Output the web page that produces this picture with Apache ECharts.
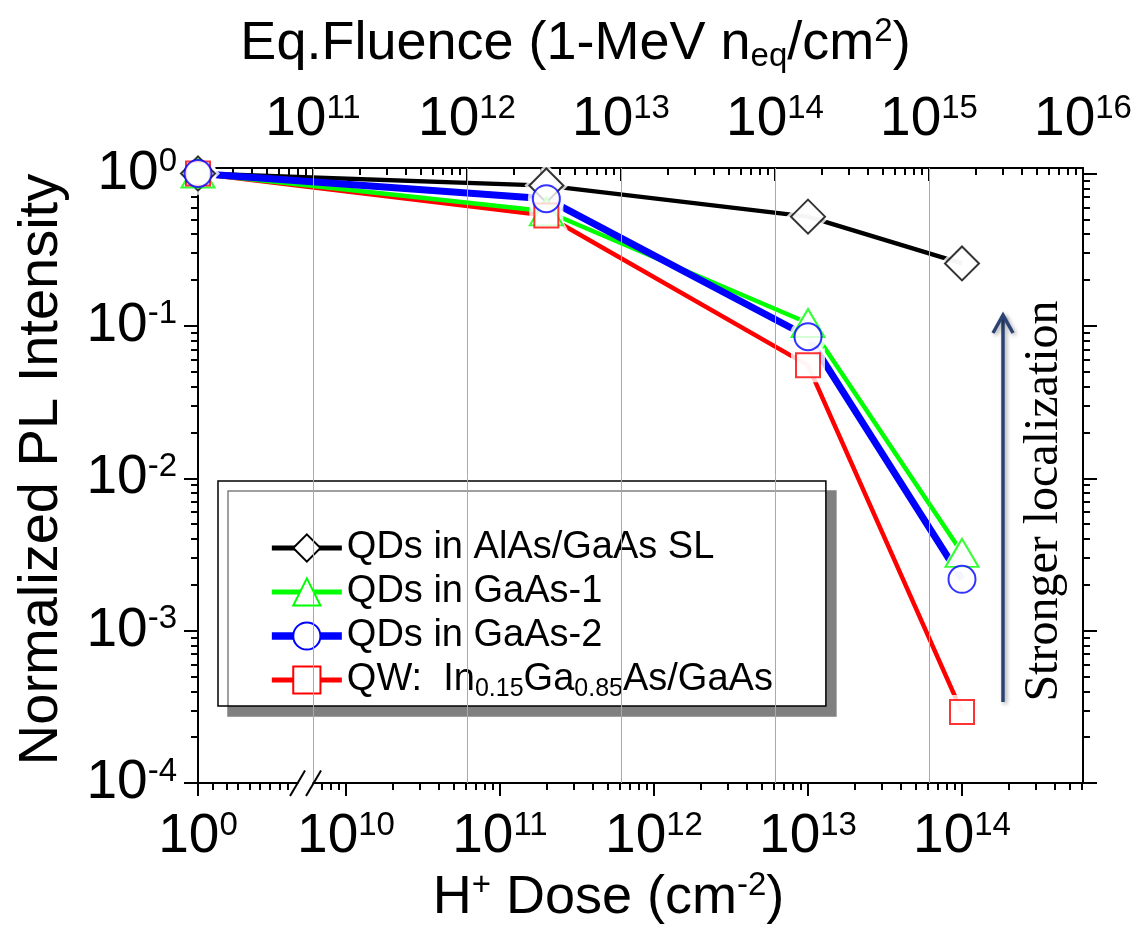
<!DOCTYPE html>
<html>
<head>
<meta charset="utf-8">
<script src="https://cdn.jsdelivr.net/npm/echarts@6/dist/echarts.min.js"></script>
<style>
  html, body { margin: 0; padding: 0; background: #fff; }
  #chart { width: 1141px; height: 930px; }
</style>
</head>
<body>
<div id="chart"></div>
<script>
// H+ dose of each measurement; the unirradiated reference is shown at 10^0
const doses = [1, 2e11, 1e13, 1e14];

// Normalized PL intensity of each sample
const qdSL     = [1.0, 0.834, 0.521, 0.257];
const qdGaAs1  = [1.0, 0.565, 0.1045, 0.00324];
const qdGaAs2  = [1.0, 0.684, 0.0849, 0.00217];
const qwInGaAs = [1.0, 0.53, 0.0551, 0.000292];

const seriesNames = ['QDs in AlAs/GaAs SL', 'QDs in GaAs-1', 'QDs in GaAs-2', 'QW:  In0.15Ga0.85As/GaAs'];

// Tick labels (powers of ten)
const doseExponents = [0, 10, 11, 12, 13, 14];
const fluenceExponents = [11, 12, 13, 14, 15, 16];
const intensityExponents = [-4, -3, -2, -1, 0];

// Broken dose axis: linear in decades, with 10^0 placed just left of the break
const ZERO_POS = 10 - 148 / 154;
const AXIS_MAX = 14 + 121 / 154;
const BREAK_POS = ZERO_POS + 0.695;
const FLUENCE_SHIFT = 16 - AXIS_MAX;   // log10(equivalent fluence / dose)
const Y_MAX = 1.087;
function axisPos(d) { return d <= 1 ? ZERO_POS : Math.log10(d); }

// minor ticks on the short segment left of the break (decades past 10^0)
const leftSegmentTicks = [0.097, 0.186, 0.26, 0.338, 0.403, 0.468, 0.532, 0.584];

const FONT = '"Liberation Sans", Arial, sans-serif';
const SERIF = '"Liberation Serif", "Times New Roman", serif';

const bottomMajor = doseExponents.map(e => e === 0 ? ZERO_POS : e);
const bottomMinor = leftSegmentTicks.map(o => ZERO_POS + o);
for (let n = 9; n <= 14; n++) for (let k = 2; k <= 9; k++) {
  const u = n + Math.log10(k);
  if (u > BREAK_POS + 0.08 && u < AXIS_MAX) bottomMinor.push(u);
}
const topMin = ZERO_POS + FLUENCE_SHIFT;
const topMajor = fluenceExponents.slice();
const topMinor = [];
for (let n = 10; n <= 15; n++) for (let k = 2; k <= 9; k++) {
  const u = n + Math.log10(k);
  if (u > topMin && u < 16) topMinor.push(u);
}
const yMajor = intensityExponents.map(e => Math.pow(10, e));
const yMinor = [];
for (let n = -4; n <= -1; n++) for (let k = 2; k <= 9; k++) yMinor.push(k * Math.pow(10, n));

const tickRich = {
  b: { fontSize: 55, fontFamily: FONT, color: '#000', lineHeight: 56 },
  p: { fontSize: 33, fontFamily: FONT, color: '#000', lineHeight: 26, verticalAlign: 'top' }
};
const nameRich = {
  a: { fontSize: 54, fontFamily: FONT, color: '#000', lineHeight: 58 },
  s: { fontSize: 33, fontFamily: FONT, color: '#000', lineHeight: 30, verticalAlign: 'top' },
  d: { fontSize: 33, fontFamily: FONT, color: '#000', lineHeight: 21, verticalAlign: 'bottom' }
};
const powLabel = e => `{b|10}{p|${e}}`;

const black = '#000';
const tickLine = { color: black, width: 2 };
const axisLine = { show: true, onZero: false, lineStyle: { color: black, width: 2 } };

const colors = ['#000000', '#00ff00', '#0000ff', '#ff0000'];
const samples = [qdSL, qdGaAs1, qdGaAs2, qwInGaAs];
const symbols = ['diamond', 'triangle', 'circle', 'rect'];
const symbolSizes = [34, [33, 28], 27, 24];
const haloSizes = [44, [43, 37], 37, 34];
const lineWidths = [4.3, 4.5, 7, 4.5];
const points = vals => vals.map((v, i) => [axisPos(doses[i]), v]);

const lineOrder = [0, 3, 1, 2];     // blue drawn over green
const markerOrder = [0, 1, 3, 2];   // circles on top

const series = [];
series.push({
  type: 'line', xAxisIndex: 2, yAxisIndex: 0, data: [], silent: true, z: 1,
  markLine: {
    silent: true, symbol: ['none', 'none'], animation: false,
    label: { show: false }, emphasis: { disabled: true },
    lineStyle: { color: '#aaaaaa', width: 1, type: 'solid' },
    data: fluenceExponents.filter(e => e < 16).map(e => ({ xAxis: e }))
  }
});
lineOrder.forEach(i => series.push({
  name: seriesNames[i], type: 'line', xAxisIndex: 0, yAxisIndex: 0, z: 2,
  data: points(samples[i]), showSymbol: false, symbol: symbols[i],
  lineStyle: { color: colors[i], width: lineWidths[i] },
  itemStyle: { color: colors[i] }, silent: true
}));
lineOrder.forEach(i => series.push({
  type: 'scatter', xAxisIndex: 0, yAxisIndex: 0, z: 3, silent: true,
  data: points(samples[i]), symbol: symbols[i], symbolSize: haloSizes[i],
  itemStyle: { color: '#fff', borderWidth: 0 }
}));
markerOrder.forEach(i => series.push({
  type: 'scatter', xAxisIndex: 0, yAxisIndex: 0, z: 4, silent: true,
  data: points(samples[i]), symbol: symbols[i], symbolSize: symbolSizes[i],
  itemStyle: { color: '#fff', borderColor: colors[i], borderWidth: 2 }
}));

const option = {
  animation: false,
  backgroundColor: '#fff',
  grid: { left: 198, right: 58, top: 168, bottom: 147, outerBoundsMode: 'none', containLabel: false },
  xAxis: [
    {
      type: 'value', position: 'bottom', min: ZERO_POS, max: AXIS_MAX,
      axisLine, splitLine: { show: false },
      axisTick: { show: true, inside: false, length: 13, lineStyle: tickLine, customValues: bottomMajor },
      axisLabel: {
        show: true, margin: 26, customValues: bottomMajor, rich: tickRich,
        formatter: v => powLabel(Math.abs(v - ZERO_POS) < 1e-6 ? 0 : Math.round(v))
      },
      name: '{a|H}{s|+}{a| Dose (cm}{s|-2}{a|)}', nameLocation: 'middle', nameGap: 74,
      nameTextStyle: { rich: nameRich, padding: [0, 64, 0, 0] }
    },
    {
      type: 'value', position: 'bottom', min: ZERO_POS, max: AXIS_MAX,
      axisLine: { show: false }, splitLine: { show: false }, axisLabel: { show: false },
      axisTick: { show: true, inside: false, length: 7, lineStyle: tickLine, customValues: bottomMinor }
    },
    {
      type: 'value', position: 'top', min: topMin, max: 16,
      axisLine, splitLine: { show: false },
      axisTick: { show: true, inside: true, length: 13, lineStyle: tickLine, customValues: topMajor },
      axisLabel: { show: true, margin: 20, customValues: topMajor, rich: tickRich, formatter: v => powLabel(Math.round(v)) },
      name: '{a|Eq.Fluence (1-MeV n}{d|eq}{a|/cm}{s|2}{a|)}', nameLocation: 'middle', nameGap: 95,
      nameTextStyle: { rich: nameRich, padding: [0, 130, 0, 0] }
    },
    {
      type: 'value', position: 'top', min: topMin, max: 16,
      axisLine: { show: false }, splitLine: { show: false }, axisLabel: { show: false },
      axisTick: { show: true, inside: true, length: 7, lineStyle: tickLine, customValues: topMinor }
    }
  ],
  yAxis: [
    {
      type: 'log', logBase: 10, position: 'left', min: 1e-4, max: Y_MAX,
      axisLine, splitLine: { show: false },
      axisTick: { show: true, inside: false, length: 14, lineStyle: tickLine, customValues: yMajor },
      axisLabel: {
        show: true, margin: 21, customValues: yMajor, rich: tickRich,
        formatter: v => powLabel(Math.round(Math.log10(v)))
      },
      name: 'Normalized PL Intensity', nameLocation: 'middle', nameGap: 126, nameRotate: 90,
      nameTextStyle: { fontSize: 56, fontFamily: FONT, color: '#000', lineHeight: 60, padding: [0, 0, 0, 12] }
    },
    {
      type: 'log', logBase: 10, position: 'left', min: 1e-4, max: Y_MAX,
      axisLine: { show: false }, splitLine: { show: false }, axisLabel: { show: false },
      axisTick: { show: true, inside: false, length: 7, lineStyle: tickLine, customValues: yMinor }
    },
    {
      type: 'log', logBase: 10, position: 'right', min: 1e-4, max: Y_MAX,
      axisLine, splitLine: { show: false }, axisLabel: { show: false },
      axisTick: { show: true, inside: false, length: 14, lineStyle: tickLine, customValues: yMajor }
    },
    {
      type: 'log', logBase: 10, position: 'right', min: 1e-4, max: Y_MAX,
      axisLine: { show: false }, splitLine: { show: false }, axisLabel: { show: false },
      axisTick: { show: true, inside: false, length: 7, lineStyle: tickLine, customValues: yMinor }
    }
  ],
  legend: {
    orient: 'vertical', left: 218, top: 481,
    padding: [45, 53, 4, 50], itemWidth: 70, itemHeight: 34, itemGap: 0,
    selectedMode: false,
    backgroundColor: '#fff', borderColor: '#000', borderWidth: 1.5,
    shadowColor: '#808080', shadowBlur: 0, shadowOffsetX: 10, shadowOffsetY: 10,
    textStyle: {
      fontSize: 38, fontFamily: FONT, color: '#000', lineHeight: 44,
      rich: { sub: { fontSize: 25, fontFamily: FONT, color: '#000', lineHeight: 17, verticalAlign: 'bottom' } }
    },
    formatter: name => name.replace(/(\d\.\d+)/g, '{sub|$1}'),
    data: [0, 1, 2, 3].map(i => ({
      name: seriesNames[i],
      itemStyle: { color: '#fff', borderColor: colors[i], borderWidth: 2 },
      lineStyle: { color: colors[i], width: lineWidths[i] + 0.7 }
    }))
  },
  series
};

const chart = echarts.init(document.getElementById('chart'), null, { renderer: 'canvas' });
chart.setOption(option);

// Axis break marks, the stub of the dose axis and the annotation arrow
const bx = chart.convertToPixel({ xAxisIndex: 0 }, BREAK_POS);
const by = chart.convertToPixel({ yAxisIndex: 0 }, 1e-4);
const x0 = chart.convertToPixel({ xAxisIndex: 0 }, ZERO_POS);
const navy = '#2a4374';
const arrowShadow = { shadowBlur: 4, shadowColor: 'rgba(0,0,0,0.35)', shadowOffsetX: 2, shadowOffsetY: 2 };
chart.setOption({
  graphic: [
    { type: 'line', z: 10, shape: { x1: x0 - 12, y1: by, x2: x0, y2: by }, style: { stroke: black, lineWidth: 2 } },
    { type: 'rect', z: 10, shape: { x: bx - 6.5, y: by - 2, width: 14, height: 4 }, style: { fill: '#fff' } },
    { type: 'line', z: 11, shape: { x1: bx - 15, y1: by + 13, x2: bx, y2: by - 12.5 }, style: { stroke: black, lineWidth: 2 } },
    { type: 'line', z: 11, shape: { x1: bx + 1, y1: by + 13, x2: bx + 16, y2: by - 12.5 }, style: { stroke: black, lineWidth: 2 } },
    {
      type: 'group', z: 12, children: [
        { type: 'line', shape: { x1: 1003, y1: 702, x2: 1003, y2: 316 },
          style: Object.assign({ stroke: navy, lineWidth: 3.5 }, arrowShadow) },
        { type: 'polyline', shape: { points: [[993, 333], [1003, 315], [1013, 333]] },
          style: Object.assign({ stroke: navy, lineWidth: 3.5, fill: null, lineJoin: 'miter' }, arrowShadow) }
      ]
    },
    {
      type: 'text', z: 12, x: 1044, y: 501, rotation: Math.PI / 2,
      style: { text: 'Stronger localization', font: '48px ' + SERIF, fill: '#000', textAlign: 'center', textVerticalAlign: 'middle' }
    }
  ]
});
</script>
</body>
</html>
